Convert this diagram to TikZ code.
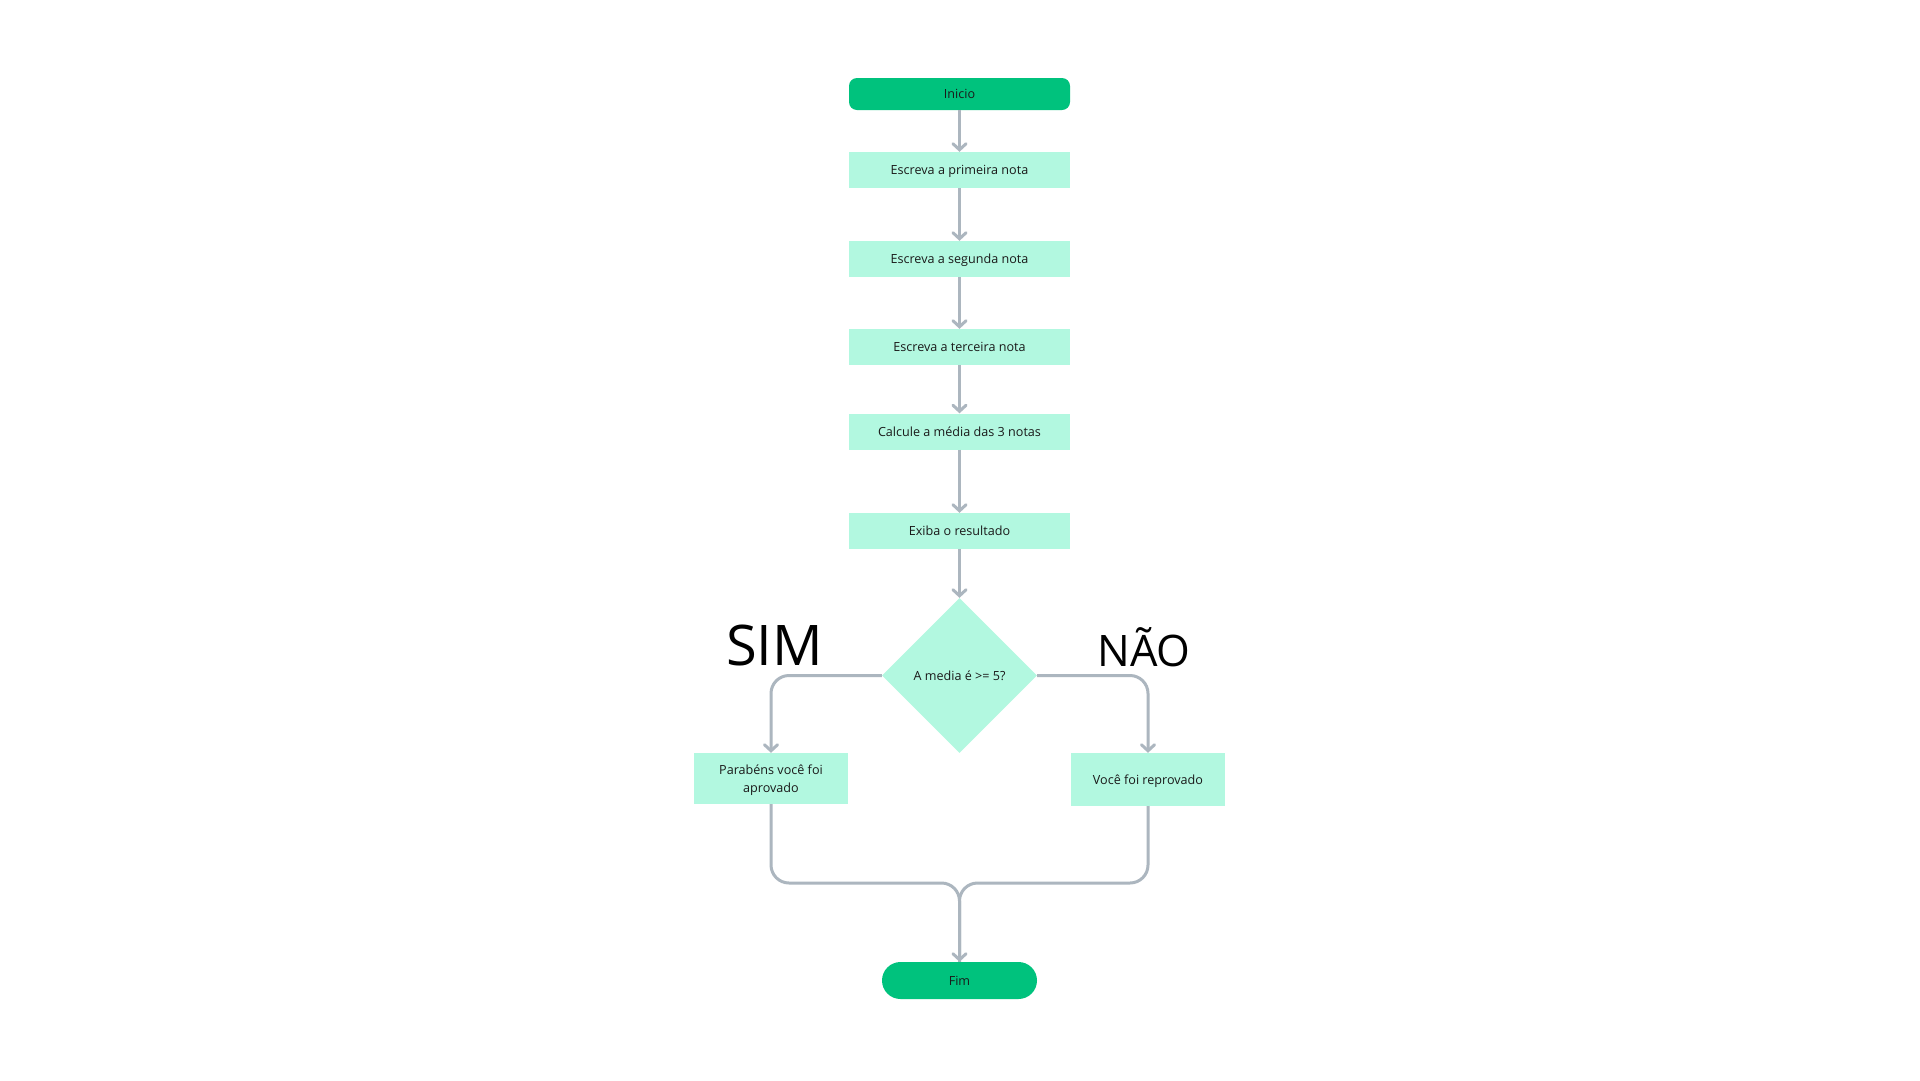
\documentclass[tikz,border=0pt]{standalone}
\usepackage{fontspec}
\setmainfont{Open Sans}
\usetikzlibrary{arrows.meta,shapes.geometric}
\definecolor{startgreen}{RGB}{0,194,125}
\definecolor{mint}{RGB}{178,248,224}
\definecolor{linegray}{RGB}{172,182,191}
\definecolor{txt}{RGB}{26,26,26}
\tikzset{
  boxtext/.style={text=txt,font=\fontsize{12.6}{18}\selectfont,text depth=0pt},
  oneline/.style={text height=9.2pt},
  stepbox/.style={rectangle,fill=mint,minimum width=221pt,minimum height=36pt,inner sep=0pt,boxtext,align=center},
  sidebox/.style={stepbox,minimum width=154pt},
  terminal/.style={rectangle,fill=startgreen,rounded corners=8pt,minimum width=221pt,minimum height=32pt,inner sep=0pt,boxtext,oneline},
  endterm/.style={rectangle,fill=startgreen,rounded corners=18.5pt,minimum width=155pt,minimum height=37pt,inner sep=0pt,boxtext,oneline},
  decision/.style={diamond,aspect=1,fill=mint,minimum width=155pt,minimum height=155pt,inner sep=0pt,boxtext,oneline},
  conn/.style={draw=linegray,line width=3pt,-{Straight Barb[length=6pt,width=13pt,line cap=round]}},
  plainconn/.style={draw=linegray,line width=3pt},
  biglabel/.style={text=black,anchor=base,inner sep=0pt}
}
\begin{document}
\begin{tikzpicture}[x=1pt,y=-1pt]
\fill[white] (0,0) rectangle (1920,1080);
\useasboundingbox (0,0) rectangle (1920,1080);

\node[terminal] (inicio) at (959.5,94) {Inicio};
\node[stepbox,oneline] (b1) at (959.5,170) {Escreva a primeira nota};
\node[stepbox,oneline] (b2) at (959.5,259) {Escreva a segunda nota};
\node[stepbox,oneline] (b3) at (959.5,347) {Escreva a terceira nota};
\node[stepbox,oneline] (b4) at (959.5,431.5) {Calcule a média das 3 notas};
\node[stepbox,oneline] (b5) at (959.5,531) {Exiba o resultado};
\node[decision] (dec) at (959.5,675.5) {A media é >= 5?};
\node[sidebox,minimum height=51pt] (sim) at (771,778.5) {Parabéns você foi\\aprovado};
\node[sidebox,oneline,minimum height=53pt] (nao) at (1148,779.5) {Você foi reprovado};
\node[endterm] (fim) at (959.5,980.5) {Fim};

\node[biglabel,font=\fontsize{56}{58}\selectfont] (simlbl) at (774.5,665) {SIM};
\node[biglabel,font=\fontsize{43.4}{46}\selectfont] (naolbl) at (1144,666) {NÃO};

\coordinate (mj) at (959.5,883);

\draw[conn] (inicio.south) -- (b1.north);
\draw[conn] (b1.south) -- (b2.north);
\draw[conn] (b2.south) -- (b3.north);
\draw[conn] (b3.south) -- (b4.north);
\draw[conn] (b4.south) -- (b5.north);
\draw[conn] (b5.south) -- (dec.north);
\draw[conn,rounded corners=18pt] (dec.west) -| (sim.north);
\draw[conn,rounded corners=18pt] (dec.east) -| (nao.north);
\draw[plainconn,rounded corners=18pt] (nao.south) |- (mj) -- (fim.north);
\draw[conn,rounded corners=18pt] (sim.south) |- (mj) -- (fim.north);
\end{tikzpicture}
\end{document}
